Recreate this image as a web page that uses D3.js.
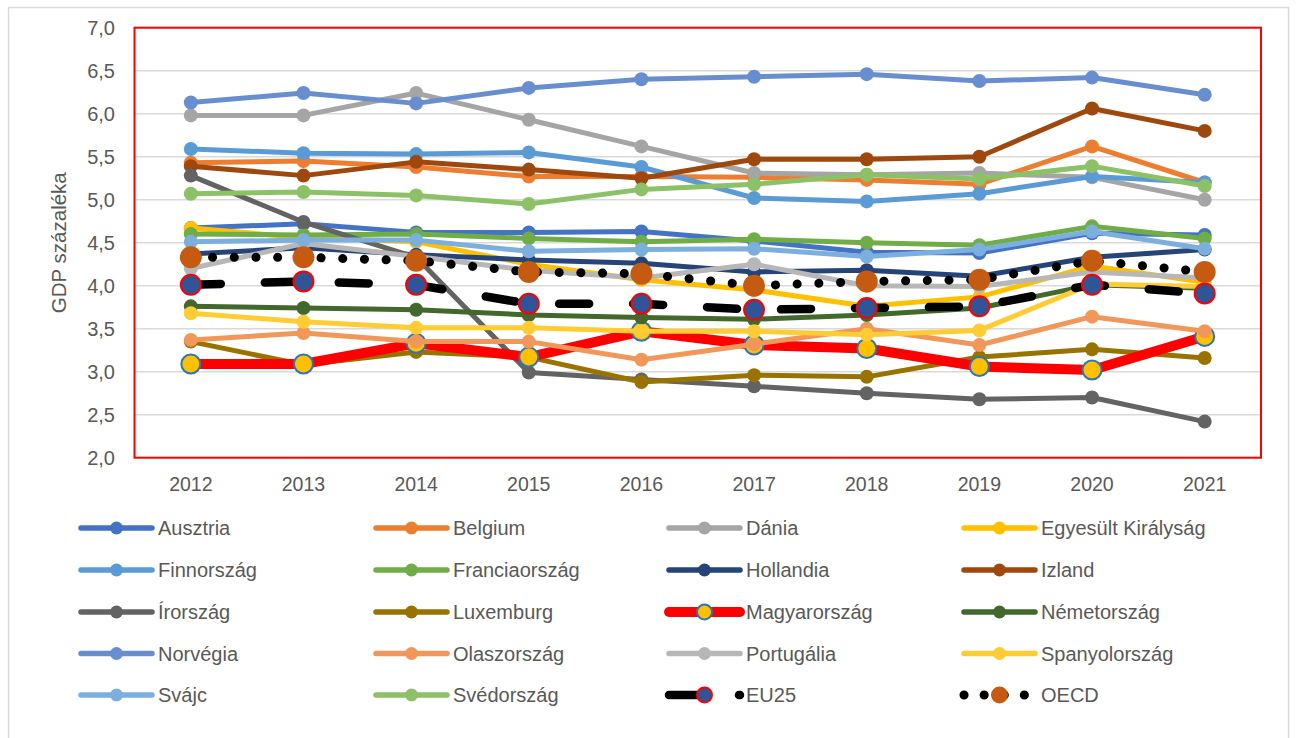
<!DOCTYPE html>
<html>
<head>
<meta charset="utf-8">
<script src="https://cdn.jsdelivr.net/npm/d3@7"></script>
<style>
  body { margin: 0; background: #fff; }
  svg { display: block; }
</style>
</head>
<body>
<div id="container"></div>
<script>
let w = 1296;
let h = 738;

// DATA
let years = [2012, 2013, 2014, 2015, 2016, 2017, 2018, 2019, 2020, 2021];
let yTicks = [2.0, 2.5, 3.0, 3.5, 4.0, 4.5, 5.0, 5.5, 6.0, 6.5, 7.0];

let names = ["Ausztria", "Belgium", "Dánia", "Egyesült Királyság", "Finnország", "Franciaország",
  "Hollandia", "Izland", "Írország", "Luxemburg", "Magyarország", "Németország", "Norvégia",
  "Olaszország", "Portugália", "Spanyolország", "Svájc", "Svédország", "EU25", "OECD"];

let ausztria      = [4.67, 4.72, 4.62, 4.62, 4.63, 4.52, 4.39, 4.38, 4.61, 4.59];
let belgium       = [5.43, 5.45, 5.38, 5.27, 5.27, 5.26, 5.23, 5.18, 5.62, 5.20];
let dania         = [5.98, 5.98, 6.24, 5.93, 5.62, 5.31, 5.29, 5.31, 5.26, 5.00];
let egyesultKir   = [4.67, 4.56, 4.51, 4.25, 4.07, 3.95, 3.76, 3.87, 4.23, 4.04];
let finnorszag    = [5.59, 5.54, 5.53, 5.55, 5.38, 5.02, 4.98, 5.07, 5.27, 5.20];
let franciaorszag = [4.60, 4.59, 4.60, 4.55, 4.51, 4.54, 4.50, 4.47, 4.69, 4.55];
let hollandia     = [4.37, 4.44, 4.36, 4.30, 4.26, 4.16, 4.18, 4.11, 4.33, 4.42];
let izland        = [5.39, 5.28, 5.44, 5.35, 5.25, 5.47, 5.47, 5.50, 6.06, 5.80];
let irorszag      = [5.28, 4.74, 4.33, 2.99, 2.91, 2.83, 2.75, 2.68, 2.70, 2.42];
let luxemburg     = [3.35, 3.08, 3.23, 3.17, 2.88, 2.96, 2.94, 3.17, 3.26, 3.16];
let magyarorszag  = [3.09, 3.09, 3.33, 3.17, 3.47, 3.31, 3.27, 3.06, 3.02, 3.41];
let nemetorszag   = [3.76, 3.74, 3.72, 3.66, 3.63, 3.61, 3.66, 3.74, 4.01, 3.97];
let norvegia      = [6.13, 6.24, 6.12, 6.30, 6.40, 6.43, 6.46, 6.38, 6.42, 6.22];
let olaszorszag   = [3.37, 3.45, 3.35, 3.35, 3.14, 3.32, 3.50, 3.31, 3.64, 3.47];
let portugalia    = [4.20, 4.49, 4.34, 4.18, 4.09, 4.25, 4.00, 3.99, 4.16, 4.09];
let spanyol       = [3.68, 3.58, 3.51, 3.51, 3.47, 3.47, 3.43, 3.48, 4.02, 3.99];
let svajc         = [4.51, 4.53, 4.53, 4.40, 4.42, 4.43, 4.34, 4.42, 4.63, 4.43];
let svedorszag    = [5.07, 5.09, 5.05, 4.95, 5.12, 5.18, 5.29, 5.24, 5.39, 5.16];
let eu25          = [4.01, 4.05, 4.01, 3.79, 3.79, 3.72, 3.74, 3.76, 4.01, 3.91];
let oecd          = [4.33, 4.33, 4.29, 4.16, 4.14, 4.00, 4.05, 4.07, 4.29, 4.16];

let valueLists = [ausztria, belgium, dania, egyesultKir, finnorszag, franciaorszag, hollandia,
  izland, irorszag, luxemburg, magyarorszag, nemetorszag, norvegia, olaszorszag, portugalia,
  spanyol, svajc, svedorszag, eu25, oecd];

// STYLES
let colors = ["#4472C4", "#ED7D31", "#A5A5A5", "#FFC000", "#5B9BD5", "#70AD47", "#264478",
  "#9E480E", "#636363", "#997300", "#FF0000", "#43682B", "#698ED0", "#F1975A", "#B7B7B7",
  "#FFCD33", "#7CAFDD", "#8CC168", "#000000", "#000000"];

function styleFor(name, i) {
  let s = { line: colors[i], width: 5, dash: null, legDash: null, r: 7, legR: 6.5,
    fill: colors[i], stroke: "none", sw: 0 };
  if (name == "Magyarország") { s.width = 10; s.r = 9.5; s.legR = 7.5; s.fill = "#FFC000"; s.stroke = "#2E75B6"; s.sw = 2; }
  if (name == "EU25") { s.width = 8.5; s.dash = "30,44"; s.legDash = "28,42"; s.r = 10; s.legR = 7.5; s.fill = "#2F5597"; s.stroke = "#FF0000"; s.sw = 2; }
  if (name == "OECD") { s.width = 9; s.dash = "0.1,21.6"; s.legDash = "0.1,20"; s.r = 11; s.legR = 8.5; s.fill = "#C55A11"; }
  return s;
}

let series = names.map(function (n, i) {
  return { name: n, values: valueLists[i], style: styleFor(n, i) };
});

let fmt = function (v) { return d3.format(".1f")(v).replace(".", ","); };

// SVG
let viz = d3.select("#container").append("svg")
  .attr("width", w)
  .attr("height", h)
  .style("font-family", "'Liberation Sans', Arial, sans-serif");

// chart frame
viz.append("rect")
  .attr("x", 8.5).attr("y", 7.5)
  .attr("width", 1280).attr("height", 800)
  .attr("fill", "#fff")
  .attr("stroke", "#D9D9D9").attr("stroke-width", 1.5);

let plotLeft = 134.5, plotRight = 1261, plotTop = 27.7, plotBottom = 457.7;

let xScale = d3.scalePoint().domain(years).range([plotLeft, plotRight]).padding(0.5);
let yScale = d3.scaleLinear().domain([2, 7]).range([plotBottom, plotTop]);

// gridlines
viz.append("g").selectAll("line").data(yTicks).enter()
  .append("line")
  .attr("x1", plotLeft).attr("x2", plotRight)
  .attr("y1", function (d) { return yScale(d); })
  .attr("y2", function (d) { return yScale(d); })
  .attr("stroke", "#D9D9D9")
  .attr("stroke-width", 1.5);

// y tick labels
viz.append("g").selectAll("text").data(yTicks).enter()
  .append("text")
  .attr("x", 115)
  .attr("y", function (d) { return yScale(d); })
  .attr("dy", "0.35em")
  .attr("text-anchor", "end")
  .attr("font-size", 20)
  .attr("fill", "#595959")
  .text(fmt);

// x tick labels
viz.append("g").selectAll("text").data(years).enter()
  .append("text")
  .attr("x", function (d) { return xScale(d); })
  .attr("y", 491)
  .attr("text-anchor", "middle")
  .attr("font-size", 19.5)
  .attr("fill", "#595959")
  .text(function (d) { return d; });

// y axis title
viz.append("text")
  .attr("transform", "translate(66," + ((plotTop + plotBottom) / 2) + ") rotate(-90)")
  .attr("text-anchor", "middle")
  .attr("font-size", 20.5)
  .attr("fill", "#595959")
  .text("GDP százaléka");

// lines
let lineMaker = d3.line()
  .x(function (d, i) { return xScale(years[i]); })
  .y(function (d) { return yScale(d); });

let groups = viz.append("g").selectAll("g").data(series).enter().append("g");

groups.append("path")
  .attr("d", function (d) { return lineMaker(d.values); })
  .attr("fill", "none")
  .attr("stroke", function (d) { return d.style.line; })
  .attr("stroke-width", function (d) { return d.style.width; })
  .attr("stroke-dasharray", function (d) { return d.style.dash; })
  .attr("stroke-linecap", "round")
  .attr("stroke-linejoin", "round");

groups.selectAll("circle").data(function (d) {
  return d.values.map(function (v, i) { return { v: v, i: i, s: d.style }; });
}).enter()
  .append("circle")
  .attr("cx", function (d) { return xScale(years[d.i]); })
  .attr("cy", function (d) { return yScale(d.v); })
  .attr("r", function (d) { return d.s.r; })
  .attr("fill", function (d) { return d.s.fill; })
  .attr("stroke", function (d) { return d.s.stroke; })
  .attr("stroke-width", function (d) { return d.s.sw; });

// plot border
viz.append("rect")
  .attr("x", plotLeft).attr("y", plotTop)
  .attr("width", plotRight - plotLeft).attr("height", plotBottom - plotTop)
  .attr("fill", "none")
  .attr("stroke", "#FF0000")
  .attr("stroke-width", 2);

// legend
let colX = [81, 376, 669, 964];
let rowY = [528, 570, 612, 653.5, 695];

let legend = viz.append("g").selectAll("g").data(series).enter()
  .append("g")
  .attr("transform", function (d, i) {
    return "translate(" + colX[i % 4] + "," + rowY[Math.floor(i / 4)] + ")";
  });

legend.append("line")
  .attr("x1", 0).attr("x2", 71)
  .attr("stroke", function (d) { return d.style.line; })
  .attr("stroke-width", function (d) { return d.style.width == 5 ? 5.5 : d.style.width; })
  .attr("stroke-dasharray", function (d) { return d.style.legDash; })
  .attr("stroke-linecap", "round");

legend.append("circle")
  .attr("cx", 35.5)
  .attr("r", function (d) { return d.style.legR; })
  .attr("fill", function (d) { return d.style.fill; })
  .attr("stroke", function (d) { return d.style.stroke; })
  .attr("stroke-width", function (d) { return d.style.sw; });

legend.append("text")
  .attr("x", 77)
  .attr("dy", "0.35em")
  .attr("font-size", 20)
  .attr("fill", "#595959")
  .text(function (d) { return d.name; });
</script>
</body>
</html>
